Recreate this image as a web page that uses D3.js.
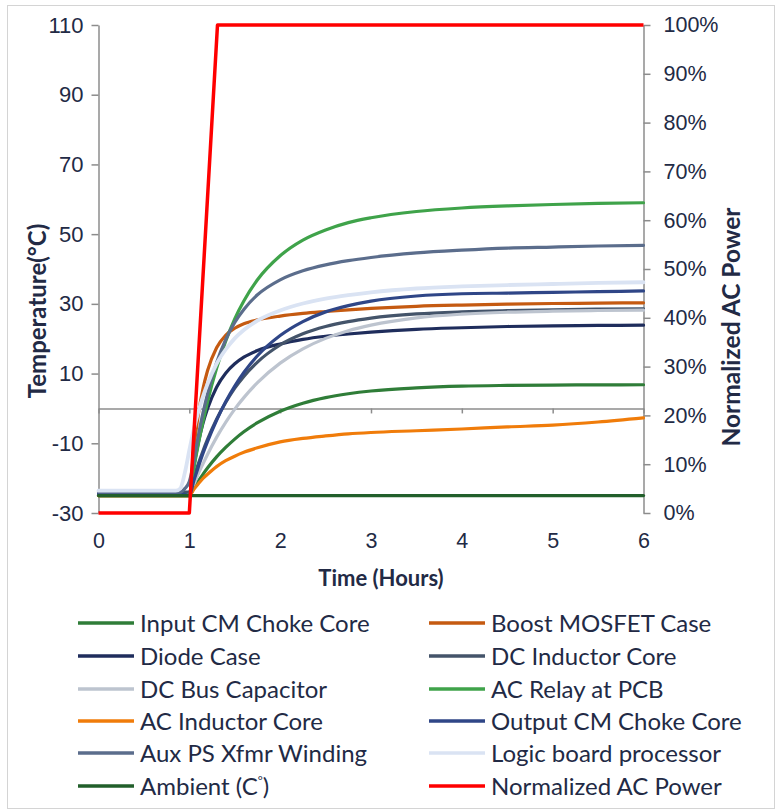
<!DOCTYPE html>
<html><head><meta charset="utf-8">
<script src="https://cdn.jsdelivr.net/npm/d3@7/dist/d3.min.js"></script>
<style>
html,body{margin:0;padding:0;background:#fff;}
svg{display:block;font-family:Lato,"Open Sans",sans-serif;}
</style></head><body>
<svg id="chart" width="778" height="812"></svg>
<script>
// ---- DATA ----
const hours = [0, 0.85, 0.9, 0.95, 1.0, 1.05, 1.1, 1.15, 1.2, 1.3, 1.4, 1.5, 1.6, 1.75, 2.0, 2.25, 2.5, 2.75, 3.0, 3.5, 4.0, 4.5, 5.0, 5.5, 6.0];
const inputCMChoke  = [-25,-25,-25,-25,-25,-22.8,-20.8,-18.9,-17.1,-13.9,-11.2,-8.8,-6.7,-4.1,-0.8,1.5,3.1,4.2,5.0,5.9,6.4,6.6,6.7,6.75,6.8];
const boostMosfet   = [-25,-25,-25,-25,-25,-11.4,-1.5,5.6,10.8,17.4,21.0,23.0,24.3,25.4,26.5,27.25,27.8,28.3,28.7,29.3,29.65,29.9,30.1,30.2,30.3];
const diodeCase     = [-24.5,-24.5,-24.5,-24.7,-25,-16.5,-9.7,-4.3,-0.1,6.1,10.1,12.8,14.7,16.6,18.5,19.8,20.7,21.35,21.9,22.7,23.15,23.5,23.7,23.8,23.9];
const dcInductor    = [-24,-24,-24,-24,-24,-19.7,-15.8,-12.2,-8.9,-3.1,1.7,5.8,9.2,13.3,18.2,21.4,23.5,24.9,25.9,27.1,27.7,28.05,28.3,28.5,28.6];
const dcBusCap      = [-25,-25,-25,-25,-25,-21.8,-18.7,-15.9,-13.2,-8.3,-4.0,-0.2,3.1,7.4,13.0,17.1,20.1,22.3,23.9,26.0,27.05,27.6,27.9,28.1,28.2];
const acRelay       = [-25,-25,-25,-25,-25,-17.1,-10.1,-3.8,1.9,11.5,19.3,25.7,30.8,36.9,43.8,48.3,51.2,53.3,54.7,56.5,57.5,58.1,58.5,58.8,59.0];
const acInductor    = [-25,-25,-25,-25,-25,-23.2,-21.6,-20.1,-18.9,-16.7,-15.0,-13.7,-12.6,-11.3,-9.6,-8.6,-7.9,-7.3,-6.9,-6.4,-5.9,-5.3,-4.8,-3.9,-2.7];
const outputCMChoke = [-24.5,-24.5,-24.5,-24.7,-25,-20.7,-16.7,-12.9,-9.5,-3.4,1.9,6.4,10.3,15.1,20.9,24.9,27.7,29.5,30.8,32.25,32.9,33.1,33.3,33.5,33.7];
const auxPSWinding  = [-24,-24,-24,-23,-21,-15.2,-7.7,-1.3,4.2,13.1,19.7,24.7,28.4,32.6,36.9,39.5,41.2,42.4,43.3,44.6,45.4,46.0,46.3,46.6,46.8];
const logicBoard    = [-23.6,-23.6,-23,-18.5,-12,-5.9,-0.9,3.4,7.0,12.8,16.9,20.1,22.5,25.2,28.1,30.1,31.5,32.5,33.3,34.4,35.0,35.4,35.7,36.0,36.2];
const ambient       = [-25,-25,-25,-25,-25,-25,-25,-25,-25,-25,-25,-25,-25,-25,-25,-25,-25,-25,-25,-25,-25,-25,-25,-25,-25];
const powerHours    = [0, 1.0, 1.31, 6];
const powerNorm     = [0, 0, 1, 1];

const seriesNames = ["Input CM Choke Core","Boost MOSFET Case","Diode Case","DC Inductor Core","DC Bus Capacitor","AC Relay at PCB","AC Inductor Core","Output CM Choke Core","Aux PS Xfmr Winding","Logic board processor","Ambient (C°)","Normalized AC Power"];
const seriesValues = [inputCMChoke, boostMosfet, diodeCase, dcInductor, dcBusCap, acRelay, acInductor, outputCMChoke, auxPSWinding, logicBoard, ambient];
const tempTicks = [-30,-10,10,30,50,70,90,110];
const powerTicks = [0,0.1,0.2,0.3,0.4,0.5,0.6,0.7,0.8,0.9,1.0];
const hourTicks = [0,1,2,3,4,5,6];

// ---- STYLE ----
const colors = ["#2f7d38","#c55a11","#1f2d5c","#44546a","#bdc4cf","#3fa34a","#f07c0a","#2f4687","#5b6d8c","#dae3f3","#225f2b","#ff0000"];
const textColor = "#222a45";
const axisColor = "#8c8c8c";

const svg = d3.select("#chart");
svg.append("rect").attr("x",7.5).attr("y",5.5).attr("width",767).attr("height",803)
  .attr("fill","#fff").attr("stroke","#d4d4d4").attr("stroke-width",1);

const x = d3.scaleLinear().domain([0,6]).range([98.5,643.5]);
const yT = d3.scaleLinear().domain([-30,110]).range([513,25]);
const yP = d3.scaleLinear().domain([0,1]).range([513,25]);

function styleAxis(g, fs){
  g.select(".domain").attr("stroke",axisColor).attr("stroke-width",1.5);
  g.selectAll(".tick line").attr("stroke",axisColor).attr("stroke-width",1.5);
  g.selectAll(".tick text").attr("fill",textColor).attr("font-size",fs);
}

// left axis
svg.append("g").attr("transform",`translate(${x(0)},0)`)
  .call(d3.axisLeft(yT).tickValues(tempTicks).tickFormat(d=>String(d)).tickSize(7).tickSizeOuter(0).tickPadding(8))
  .call(g=>styleAxis(g,22));
// right axis
svg.append("g").attr("transform",`translate(${x(6)},0)`)
  .call(d3.axisRight(yP).tickValues(powerTicks).tickFormat(d=>Math.round(d*100)+"%").tickSize(7).tickSizeOuter(0).tickPadding(13))
  .call(g=>styleAxis(g,21.5));
// horizontal axis line crossing at 0 °C
svg.append("g").attr("transform",`translate(0,${yT(0)})`)
  .call(d3.axisBottom(x).tickValues(hourTicks).tickSize(5).tickSizeOuter(0).tickFormat(""))
  .call(g=>styleAxis(g,20));
// hour labels at bottom
svg.append("g").attr("transform",`translate(0,${yT(-30)})`)
  .call(d3.axisBottom(x).tickValues(hourTicks).tickFormat(d=>String(d)).tickSize(0).tickPadding(20))
  .call(g=>{g.select(".domain").remove(); g.selectAll(".tick text").attr("fill",textColor).attr("font-size",21.5);});

// lines
const lineT = d3.line().x(d=>x(d[0])).y(d=>yT(d[1])).curve(d3.curveMonotoneX);
seriesValues.forEach((vals,i)=>{
  const pts = hours.map((h,j)=>[h,vals[j]]);
  svg.append("path").attr("d",lineT(pts)).attr("fill","none")
    .attr("stroke",colors[i]).attr("stroke-width", i===9 ? 3.8 : 3.2)
    .attr("stroke-linejoin","round").attr("stroke-linecap","round");
});
const lineP = d3.line().x(d=>x(d[0])).y(d=>yP(d[1]));
svg.append("path").attr("d",lineP(powerHours.map((h,j)=>[h,powerNorm[j]])))
  .attr("fill","none").attr("stroke",colors[11]).attr("stroke-width",3.5).attr("stroke-linejoin","round");

// axis titles
svg.append("text").attr("transform",`translate(46,311) rotate(-90)`).attr("text-anchor","middle")
  .attr("font-weight","bold").attr("font-size",24).attr("fill",textColor).text("Temperature(°C)");
svg.append("text").attr("transform",`translate(740,327) rotate(-90)`).attr("text-anchor","middle")
  .attr("font-weight","bold").attr("font-size",24.5).attr("fill",textColor).text("Normalized AC Power");
svg.append("text").attr("x",381).attr("y",586).attr("text-anchor","middle")
  .attr("font-weight","bold").attr("font-size",22).attr("fill",textColor).text("Time (Hours)");

// legend
const legendRows = [623,656,689,721,753,786];
const legendCols = [78,429];
seriesNames.forEach((name,i)=>{
  const cx = legendCols[i%2], cy = legendRows[Math.floor(i/2)];
  const g = svg.append("g").attr("transform",`translate(${cx},${cy})`);
  g.append("line").attr("x1",0).attr("x2",56).attr("y1",0).attr("y2",0)
    .attr("stroke",colors[i]).attr("stroke-width",3.5);
  const t = g.append("text").attr("x",62).attr("y",8.5).attr("font-size",24).attr("fill",textColor);
  if(name.endsWith("(C°)")){
    t.text("Ambient (C");
    t.append("tspan").attr("font-size",12).attr("dy",-10).text("°");
    t.append("tspan").attr("dy",10).text(")");
  } else t.text(name);
});
</script>
</body></html>
